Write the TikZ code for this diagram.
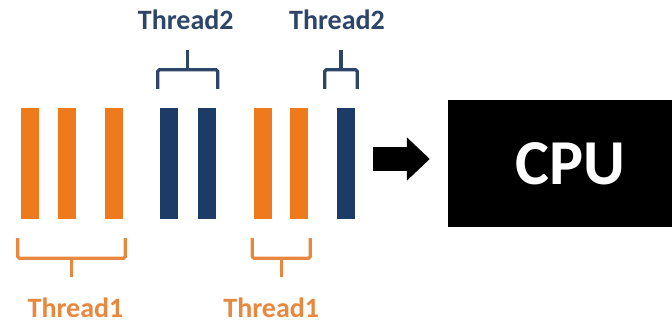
\documentclass[tikz,border=0pt]{standalone}
\usepackage{fontspec}
\setmainfont{Carlito}
\usepackage{tikz}
\usetikzlibrary{calc, arrows.meta}

\definecolor{threadorange}{HTML}{EE7A1C}
\definecolor{threadblue}{HTML}{1C3B66}
\definecolor{labelorange}{HTML}{E8873E}
\definecolor{labelblue}{HTML}{2C4568}

\begin{document}
\begin{tikzpicture}[x=1pt, y=-1pt, >=Triangle,
  every bar/.style={rectangle, minimum width=18pt, minimum height=111pt, inner sep=0pt},
  brace orange/.style={draw=labelorange, line width=3.2pt, rounded corners=1.5pt},
  brace blue/.style={draw=labelblue, line width=3.2pt, rounded corners=1.5pt},
  thread label/.style={font=\fontsize{28}{32}\selectfont\bfseries, inner sep=0pt}]

\useasboundingbox (0,0) rectangle (672,326);

\foreach \x/\c [count=\i] in {30/threadorange, 67/threadorange, 114/threadorange,
    169/threadblue, 206.5/threadblue, 262.5/threadorange, 299/threadorange, 346/threadblue}
  \node [every bar/.try, fill=\c] (bar-\i) at (\x,163.5) {};

\node [fill=black, minimum width=244pt, minimum height=127pt, inner sep=0pt,
  text=white, font=\fontsize{64}{70}\selectfont\bfseries] (cpu) at (570,163.5) {CPU};

\draw [->, line width=23pt, -{Triangle[length=23pt, width=42pt]},
  shorten <=18pt, shorten >=18pt]
  ([yshift=4.5pt]bar-8.east) -- ([yshift=4.5pt]cpu.west);

% braces above the blue bars
\foreach \a/\b/\l/\r/\s [count=\i] in {4/5/2/2/-2, 8/8/12/2/-4}
{
  \coordinate (top-\i-l) at ($(bar-\a.north west)+(-\l,-19)$);
  \coordinate (top-\i-r) at ($(bar-\b.north east)+(\r,-19)$);
  \draw [brace blue] (top-\i-l) -- ++(0,-19) -| (top-\i-r);
  \draw [brace blue] ($(top-\i-l)!0.5!(top-\i-r)+(0,-19)$) -- ++(0,-20)
    coordinate (top-tip-\i);
  \node [thread label, text=labelblue, anchor=south, yshift=20pt, xshift=\s pt]
    (thread2-\i) at (top-tip-\i) {Thread2};
}

% braces below the orange bars
\foreach \a/\b/\l/\r/\s [count=\i] in {1/3/3/2/4, 6/7/1/2/-10}
{
  \coordinate (bot-\i-l) at ($(bar-\a.south west)+(-\l,19)$);
  \coordinate (bot-\i-r) at ($(bar-\b.south east)+(\r,19)$);
  \draw [brace orange] (bot-\i-l) -- ++(0,20) -| (bot-\i-r);
  \draw [brace orange] ($(bot-\i-l)!0.5!(bot-\i-r)+(0,20)$) -- ++(0,19)
    coordinate (bot-tip-\i);
  \node [thread label, text=labelorange, anchor=north, yshift=-20pt, xshift=\s pt]
    (thread1-\i) at (bot-tip-\i) {Thread1};
}

\end{tikzpicture}
\end{document}
